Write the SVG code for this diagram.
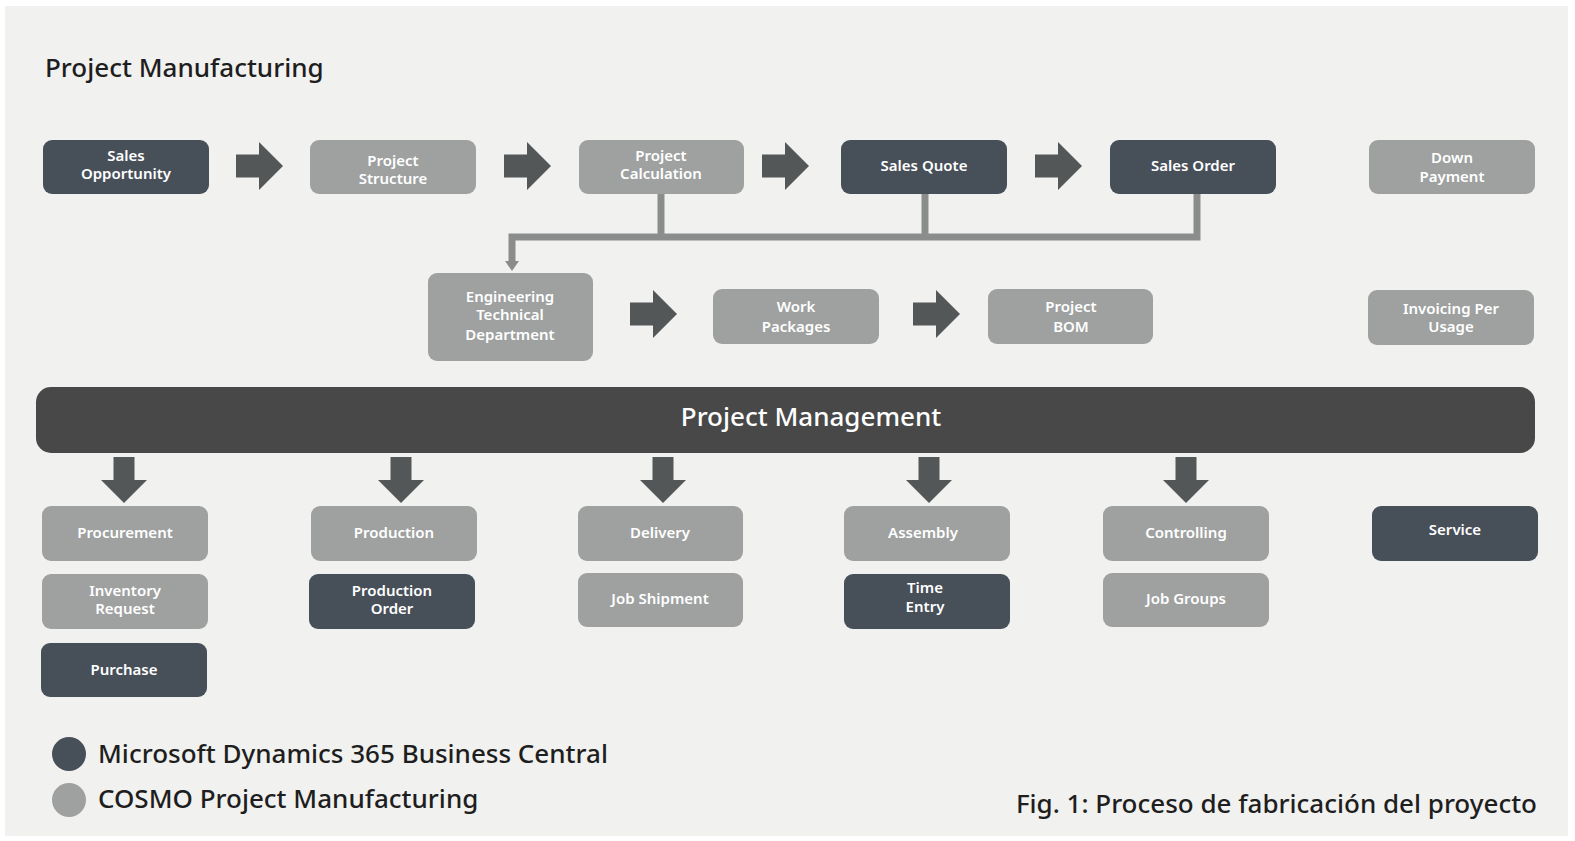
<svg xmlns="http://www.w3.org/2000/svg" width="1575" height="841" viewBox="0 0 1575 841">
<style>
.bg{fill:#f1f1f0}
.dk{fill:#474f59}
.gr{fill:#9ea1a0}
.bt{fill:#ffffff;font-family:"Noto Sans","Liberation Sans",sans-serif;font-size:15px;font-weight:600;text-anchor:middle}
.arr{fill:#545758}
.con{fill:none;stroke:#8b8d8d;stroke-width:7}
.tt{fill:#1e1e1e;font-family:"Noto Sans","Liberation Sans",sans-serif;font-weight:500}
</style>
<defs>
<path id="ra" d="M0,-11.5 H23 V-24 L47,0 L23,24 V11.5 H0 Z"/>
<path id="da" d="M-10.5,0 H10.5 V23 H23 L0,46 L-23,23 H-10.5 Z"/>
</defs>
<rect x="0" y="0" width="1575" height="841" fill="#ffffff"/>
<rect class="bg" x="5" y="6" width="1563" height="830"/>
<text class="tt" x="45" y="77" font-size="26">Project Manufacturing</text>

<g id="connectors">
<use href="#ra" class="arr" x="236" y="166"/>
<use href="#ra" class="arr" x="504" y="166"/>
<use href="#ra" class="arr" x="762" y="166"/>
<use href="#ra" class="arr" x="1035" y="166"/>
<use href="#ra" class="arr" x="630" y="314"/>
<use href="#ra" class="arr" x="913" y="314"/>
<path class="con" d="M661,194 V237 M925,194 V237 M1197,194 V237 H512 V262"/>
<path d="M505,261 H519 L512,271 Z" fill="#8b8d8d"/>
<use href="#da" class="arr" x="124" y="457"/>
<use href="#da" class="arr" x="401" y="457"/>
<use href="#da" class="arr" x="663" y="457"/>
<use href="#da" class="arr" x="929" y="457"/>
<use href="#da" class="arr" x="1186" y="457"/>
</g>

<g id="sales-opportunity"><rect class="dk" x="43" y="140" width="166" height="54" rx="9"/><text class="bt" x="126" y="161">Sales</text><text class="bt" x="126" y="179">Opportunity</text></g>
<g id="project-structure"><rect class="gr" x="310" y="140" width="166" height="54" rx="9"/><text class="bt" x="393" y="166">Project</text><text class="bt" x="393" y="184">Structure</text></g>
<g id="project-calculation"><rect class="gr" x="579" y="140" width="165" height="54" rx="9"/><text class="bt" x="661" y="161">Project</text><text class="bt" x="661" y="179">Calculation</text></g>
<g id="sales-quote"><rect class="dk" x="841" y="140" width="166" height="54" rx="9"/><text class="bt" x="924" y="171">Sales Quote</text></g>
<g id="sales-order"><rect class="dk" x="1110" y="140" width="166" height="54" rx="9"/><text class="bt" x="1193" y="171">Sales Order</text></g>
<g id="down-payment"><rect class="gr" x="1369" y="140" width="166" height="54" rx="9"/><text class="bt" x="1452" y="163">Down</text><text class="bt" x="1452" y="182">Payment</text></g>

<g id="engineering"><rect class="gr" x="428" y="273" width="165" height="88" rx="9"/><text class="bt" x="510" y="302">Engineering</text><text class="bt" x="510" y="320">Technical</text><text class="bt" x="510" y="340">Department</text></g>
<g id="work-packages"><rect class="gr" x="713" y="289" width="166" height="55" rx="9"/><text class="bt" x="796" y="312">Work</text><text class="bt" x="796" y="332">Packages</text></g>
<g id="project-bom"><rect class="gr" x="988" y="289" width="165" height="55" rx="9"/><text class="bt" x="1071" y="312">Project</text><text class="bt" x="1071" y="332">BOM</text></g>
<g id="invoicing"><rect class="gr" x="1368" y="290" width="166" height="55" rx="9"/><text class="bt" x="1451" y="314">Invoicing Per</text><text class="bt" x="1451" y="332">Usage</text></g>

<g id="project-management"><rect x="36" y="387" width="1499" height="66" rx="15" fill="#484848"/><text x="811" y="426" fill="#ffffff" font-family="'Noto Sans','Liberation Sans',sans-serif" font-size="26" font-weight="500" text-anchor="middle">Project Management</text></g>

<g id="procurement"><rect class="gr" x="42" y="506" width="166" height="55" rx="9"/><text class="bt" x="125" y="538">Procurement</text></g>
<g id="production"><rect class="gr" x="311" y="506" width="166" height="55" rx="9"/><text class="bt" x="394" y="538">Production</text></g>
<g id="delivery"><rect class="gr" x="578" y="506" width="165" height="55" rx="9"/><text class="bt" x="660" y="538">Delivery</text></g>
<g id="assembly"><rect class="gr" x="844" y="506" width="166" height="55" rx="9"/><text class="bt" x="923" y="538">Assembly</text></g>
<g id="controlling"><rect class="gr" x="1103" y="506" width="166" height="55" rx="9"/><text class="bt" x="1186" y="538">Controlling</text></g>
<g id="service"><rect class="dk" x="1372" y="506" width="166" height="55" rx="9"/><text class="bt" x="1455" y="535">Service</text></g>

<g id="inventory-request"><rect class="gr" x="42" y="574" width="166" height="55" rx="9"/><text class="bt" x="125" y="596">Inventory</text><text class="bt" x="125" y="614">Request</text></g>
<g id="production-order"><rect class="dk" x="309" y="574" width="166" height="55" rx="9"/><text class="bt" x="392" y="596">Production</text><text class="bt" x="392" y="614">Order</text></g>
<g id="job-shipment"><rect class="gr" x="578" y="573" width="165" height="54" rx="9"/><text class="bt" x="660" y="604">Job Shipment</text></g>
<g id="time-entry"><rect class="dk" x="844" y="574" width="166" height="55" rx="9"/><text class="bt" x="925" y="593">Time</text><text class="bt" x="925" y="612">Entry</text></g>
<g id="job-groups"><rect class="gr" x="1103" y="573" width="166" height="54" rx="9"/><text class="bt" x="1186" y="604">Job Groups</text></g>
<g id="purchase"><rect class="dk" x="41" y="643" width="166" height="54" rx="9"/><text class="bt" x="124" y="675">Purchase</text></g>

<g id="legend">
<ellipse class="dk" cx="69" cy="754" rx="17" ry="17"/>
<ellipse class="gr" cx="69" cy="800" rx="17" ry="17"/>
<text class="tt" x="98" y="763" font-size="26">Microsoft Dynamics 365 Business Central</text>
<text class="tt" x="98" y="808" font-size="26">COSMO Project Manufacturing</text>
</g>
<text class="tt" x="1537" y="813" font-size="26" text-anchor="end">Fig. 1: Proceso de fabricación del proyecto</text>
</svg>
